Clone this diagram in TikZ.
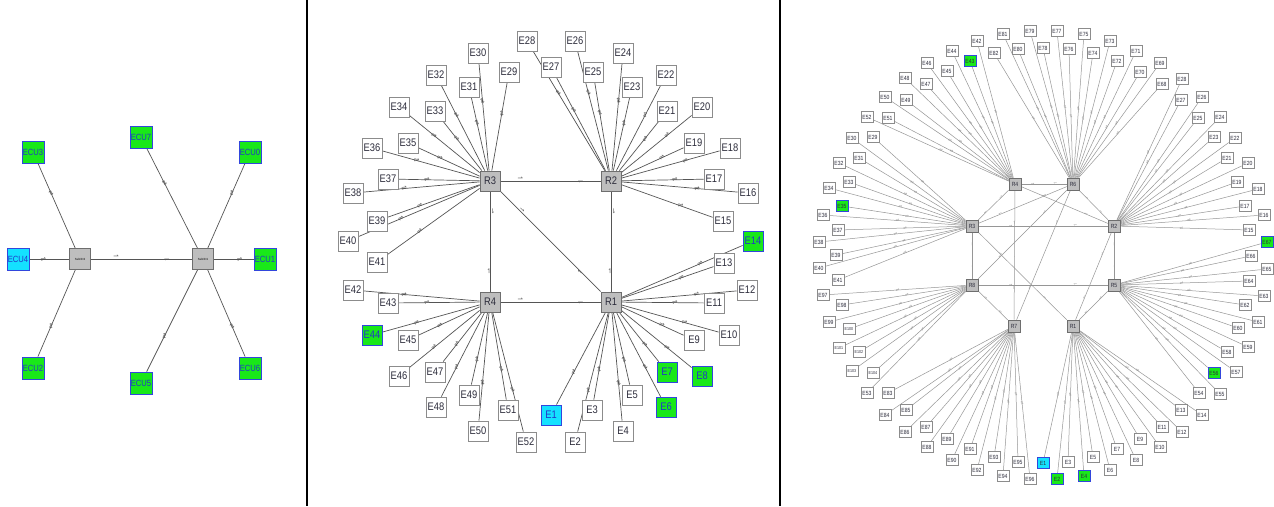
\documentclass[tikz,border=0pt]{standalone}
\usepackage{fontspec}
\setmainfont{Liberation Sans}[FakeStretch=0.85]
\newfontfamily\symf{DejaVu Sans}
\definecolor{ecugreen}{RGB}{25,232,25}
\definecolor{ecucyan}{RGB}{20,225,255}
\definecolor{ecublue}{RGB}{50,70,220}
\definecolor{ecutext}{RGB}{35,55,200}
\definecolor{rfill}{RGB}{190,190,190}
\definecolor{rborder}{RGB}{110,110,110}
\definecolor{eborder}{RGB}{140,140,140}
\definecolor{etext}{RGB}{45,45,60}
\definecolor{mlinkc}{RGB}{85,85,85}
\definecolor{rlinkc}{RGB}{150,150,150}
\pgfdeclarelayer{bg}
\pgfdeclarelayer{paper}
\pgfsetlayers{paper,bg,main}
\begin{document}
\begin{tikzpicture}[x=1pt,y=-1pt,
  lecu/.style={draw=ecublue,line width=0.8pt,fill=ecugreen,minimum size=22pt,inner sep=0pt,text=ecutext,font=\fontsize{9}{9}\selectfont},
  lcy/.style={lecu,fill=ecucyan},
  sw/.style={draw=rborder,line width=0.8pt,fill=rfill,minimum size=21pt,inner sep=0pt,font=\fontsize{3}{3}\selectfont},
  mE/.style={draw=eborder,line width=0.8pt,fill=white,minimum size=20pt,inner sep=0pt,text=etext,font=\fontsize{11}{11}\selectfont},
  mG/.style={mE,draw=ecublue,fill=ecugreen,text=ecutext},
  mC/.style={mG,fill=ecucyan},
  mR/.style={draw=rborder,line width=0.8pt,fill=rfill,minimum size=20pt,inner sep=0pt,text=etext,font=\fontsize{11}{11}\selectfont},
  rE/.style={draw=eborder,line width=0.6pt,fill=white,minimum width=12pt,minimum height=11pt,inner sep=0pt,text=etext,font=\fontsize{6}{6}\selectfont},
  rEs/.style={rE,font=\fontsize{4.3}{4.3}\selectfont},
  rG/.style={rE,draw=ecublue,fill=ecugreen},
  rC/.style={rG,fill=ecucyan},
  rR/.style={draw=rborder,line width=0.6pt,fill=rfill,minimum size=12pt,inner sep=0pt,text=etext,font=\fontsize{6}{6}\selectfont},
  llink/.style={draw=mlinkc,line width=0.7pt},
  mlink/.style={draw=mlinkc,line width=0.7pt},
  rlink/.style={draw=rlinkc,line width=0.5pt},
  mk/.style={font=\symf\fontsize{6.5}{6.5}\selectfont,text=mlinkc,inner sep=0.3pt,sloped},
  rk/.style={font=\symf\fontsize{4.2}{4.2}\selectfont,text=rlinkc,inner sep=0.2pt,sloped},
  divider/.style={draw=black,line width=1.6pt}]
\begin{pgfonlayer}{paper}
\fill[white] (0,0) rectangle (1274,506);
\end{pgfonlayer}
\useasboundingbox (0,0) rectangle (1274,506);
% dividers
\coordinate (d1t) at (307,0); \coordinate (d1b) at (307,506);
\coordinate (d2t) at (780,0); \coordinate (d2b) at (780,506);
\draw[divider] (d1t) -- (d1b);
\draw[divider] (d2t) -- (d2b);
% ---------------- left panel ----------------
\node[sw] (S2) at (80,259) {Switch\#2};
\node[sw] (S1) at (203,259) {Switch\#1};
\node[lecu] (ECU3) at (33,152) {ECU3};
\node[lecu] (ECU7) at (141,137) {ECU7};
\node[lecu] (ECU0) at (250,152) {ECU0};
\node[lcy]  (ECU4) at (18,259) {ECU4};
\node[lecu] (ECU1) at (265,259) {ECU1};
\node[lecu] (ECU2) at (33,368) {ECU2};
\node[lecu] (ECU5) at (141,383) {ECU5};
\node[lecu] (ECU6) at (250,368) {ECU6};
\begin{pgfonlayer}{bg}
\foreach \e in {ECU3,ECU4,ECU2}
  \draw[llink] (\e) -- node[mk,pos=0.35]{⇌} (S2);
\foreach \e in {ECU7,ECU0,ECU1,ECU5,ECU6}
  \draw[llink] (\e) -- node[mk,pos=0.35]{⇌} (S1);
\draw[llink] (S2) -- node[mk,pos=0.25,above]{⇀} node[mk,pos=0.75,below]{↽} (S1);
\end{pgfonlayer}
% ---------------- middle panel ----------------
\node[mR] (mR3) at (490,181) {R3};
\node[mR] (mR2) at (611,181) {R2};
\node[mR] (mR4) at (490,302) {R4};
\node[mR] (mR1) at (611,302) {R1};
\foreach \n/\x/\y in {E2/575/442,E3/592/410,E4/623/431,E5/632/395,E9/694/340,E10/729/335,
  E11/714/303,E12/747/290,E13/724/263,E15/723/221,E16/748/193,E17/714/179,E18/730/148,
  E19/694/143,E20/702/107,E21/667/111,E22/666/75,E23/632/87,E24/623/53,E25/593/72,
  E26/575/41,E27/551/67,E28/527/41,E29/509/72,E30/478/53,E31/469/87,E32/436/75,
  E33/435/111,E34/399/107,E35/408/143,E36/372/148,E37/388/179,E38/353/193,E39/377/221,
  E40/348/241,E41/377/262,E42/353/290,E43/388/303,E45/408/340,E46/399/376,E47/435/372,
  E48/436/407,E49/469/395,E50/478/431,E51/508/410,E52/526/442}
  \node[mE] (m\n) at (\x,\y) {\n};
\foreach \n/\x/\y in {E6/666/407,E7/667/372,E8/702/376,E14/753/241,E44/372/335}
  \node[mG] (m\n) at (\x,\y) {\n};
\node[mC] (mE1) at (551,415) {E1};
\begin{pgfonlayer}{bg}
\foreach \i in {1,...,14} \draw[mlink] (mE\i) -- node[mk,pos=0.35]{⇌} (mR1);
\foreach \i in {15,...,28} \draw[mlink] (mE\i) -- node[mk,pos=0.35]{⇌} (mR2);
\foreach \i in {29,...,41} \draw[mlink] (mE\i) -- node[mk,pos=0.35]{⇌} (mR3);
\foreach \i in {42,...,52} \draw[mlink] (mE\i) -- node[mk,pos=0.35]{⇌} (mR4);
\foreach \a/\b in {R3/R2,R3/R4,R2/R1,R4/R1,R3/R1}
  \draw[mlink] (m\a) -- node[mk,pos=0.2,above]{⇀} node[mk,pos=0.8,below]{↽} (m\b);
\end{pgfonlayer}
% ---------------- right panel ----------------
\foreach \n/\x/\y in {R4/1015/184,R6/1073/184,R3/972/226,R2/1114/226,R8/972/285,R5/1114/285,R7/1014/326,R1/1073/326}
  \node[rR] (r\n) at (\x,\y) {\n};
\foreach \n/\x/\y in {E3/1068/462,E5/1093/457,E6/1110/470,E7/1117/449,E8/1136/460,E9/1140/439,
  E10/1160/447,E11/1162/427,E12/1182/432,E13/1181/410,E14/1202/415,
  E15/1249/230,E16/1264/215,E17/1245/206,E18/1258/189,E19/1237/182,E20/1248/163,E21/1227/158,
  E22/1235/138,E23/1214/137,E24/1220/117,E25/1198/118,E26/1202/97,E27/1181/100,E28/1182/79,
  E29/873/137,E30/852/138,E31/859/158,E32/839/163,E33/849/182,E34/829/188,E36/823/215,
  E37/838/230,E38/819/242,E39/836/255,E40/819/268,E41/838/280,
  E42/977/41,E44/952/51,E45/947/71,E46/927/63,E47/926/84,E48/905/78,E49/906/100,E50/885/97,
  E51/888/118,E52/867/117,E53/867/393,
  E54/1199/393,E55/1220/394,E57/1236/372,E58/1227/352,E59/1248/347,E60/1238/328,E61/1258/322,
  E62/1245/305,E63/1264/296,E64/1249/281,E65/1267/269,E66/1251/256,
  E68/1162/84,E69/1160/63,E70/1140/72,E71/1136/51,E72/1117/61,E73/1110/41,E74/1093/53,
  E75/1084/34,E76/1069/49,E77/1057/31,E78/1043/48,E79/1030/31,E80/1018/49,E81/1003/34,E82/994/53,
  E83/888/393,E84/885/415,E85/906/410,E86/905/432,E87/926/427,E88/927/447,E89/947/439,
  E90/952/460,E91/970/449,E92/977/470,E93/994/457,E94/1003/476,E95/1018/462,E96/1030/479,
  E97/823/295,E98/842/305,E99/829/322}
  \node[rE] (r\n) at (\x,\y) {\n};
\foreach \n/\x/\y in {E100/849/329,E101/839/348,E102/859/352,E103/852/371,E104/873/373}
  \node[rEs] (r\n) at (\x,\y) {\n};
\foreach \n/\x/\y in {E2/1057/479,E4/1084/476,E35/842/206,E43/970/61,E56/1214/373,E67/1267/242}
  \node[rG] (r\n) at (\x,\y) {\n};
\node[rC] (rE1) at (1043,463) {E1};
\begin{pgfonlayer}{bg}
\foreach \i in {1,...,14} \draw[rlink] (rE\i) -- node[rk]{⇌} (rR1);
\foreach \i in {15,...,28} \draw[rlink] (rE\i) -- node[rk]{⇌} (rR2);
\foreach \i in {29,...,41} \draw[rlink] (rE\i) -- node[rk]{⇌} (rR3);
\foreach \i in {42,...,52} \draw[rlink] (rE\i) -- node[rk]{⇌} (rR4);
\foreach \i in {54,...,67} \draw[rlink] (rE\i) -- node[rk]{⇌} (rR5);
\foreach \i in {68,...,82} \draw[rlink] (rE\i) -- node[rk]{⇌} (rR6);
\foreach \i in {83,...,96} \draw[rlink] (rE\i) -- node[rk]{⇌} (rR7);
\foreach \i in {53,97,98,99,100,101,102,103,104} \draw[rlink] (rE\i) -- node[rk]{⇌} (rR8);
\foreach \a/\b in {R4/R6,R4/R3,R4/R7,R4/R2,R6/R3,R6/R2,R6/R8,R6/R7,R3/R2,R3/R8,R3/R1,R2/R5,R2/R1,R8/R5,R8/R7,R5/R1}
  \draw[rlink] (r\a) -- node[rk,pos=0.25]{⇀} node[rk,pos=0.75]{↽} (r\b);
\end{pgfonlayer}
\end{tikzpicture}
\end{document}
